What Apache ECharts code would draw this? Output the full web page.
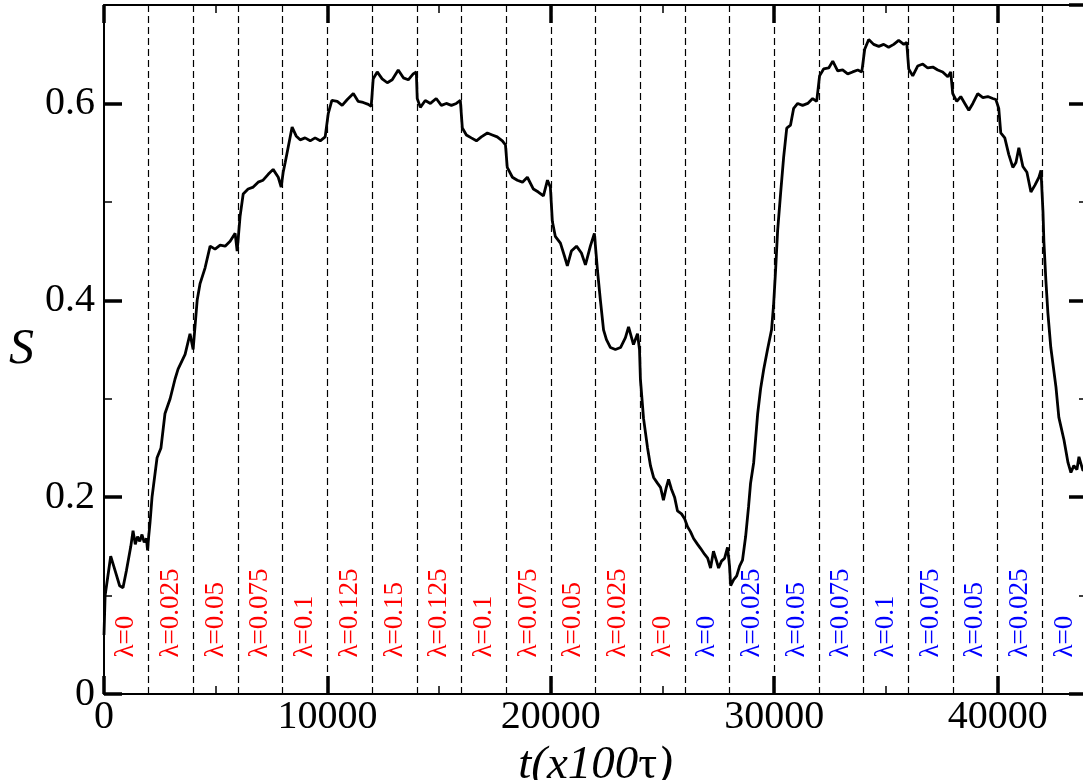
<!DOCTYPE html>
<html>
<head>
<meta charset="utf-8">
<title>S vs t</title>
<script src="https://cdn.jsdelivr.net/npm/echarts@6/dist/echarts.min.js"></script>
<style>
  html, body { margin: 0; padding: 0; background: #fff; }
  #chart { width: 1083px; height: 780px; }
</style>
</head>
<body>
<div id="chart"></div>
<script>
// time (x100 tau) and order parameter S
var tValues = [
  0, 50, 300, 500, 700, 850, 1000, 1200, 1300, 1400, 1500, 1600, 1700, 1800, 1900, 1950,
  2000, 2060, 2150, 2375, 2550, 2730, 2960, 3180, 3315, 3630, 3850, 3990,
  4170, 4300, 4525, 4750, 4970, 5200, 5420, 5645, 5870, 5960,
  6090, 6230, 6450, 6680, 6900, 7120, 7350, 7570, 7800, 7930,
  8020, 8110, 8240, 8420, 8600, 8780, 9000, 9230, 9450, 9680, 9900,
  10040, 10200, 10440, 10660, 10890, 11160, 11380, 11600, 11830, 11960,
  12050, 12230, 12450, 12680, 12900, 13170, 13400, 13620, 13840, 13980,
  14020, 14160, 14380, 14610, 14870, 15100, 15320, 15550, 15770, 15950,
  16040, 16220, 16440, 16670, 16890, 17160, 17380, 17600, 17830, 17970,
  18050, 18280, 18500, 18730, 18950, 19220, 19440, 19670, 19850, 19980,
  20070, 20200, 20430, 20610, 20740, 20920, 21150, 21370, 21550, 21770, 21950,
  22090, 22220, 22360, 22490, 22670, 22890, 23120, 23340, 23480, 23700, 23880, 23970,
  24010, 24150, 24330, 24460, 24600, 24780, 24910, 25040, 25170, 25270, 25400, 25540, 25670, 25850, 25990,
  26120, 26250, 26390, 26570, 26700, 26880, 27020, 27150, 27280, 27420, 27510, 27640, 27780, 27910, 28000,
  28050, 28180, 28320, 28450, 28580, 28720, 28850, 28940, 29080, 29170, 29260, 29390, 29530, 29700, 29880, 29970,
  30060, 30150, 30290, 30420, 30560, 30730, 30870, 31050, 31270, 31500, 31720, 31900,
  32030, 32210, 32440, 32620, 32840, 33060, 33290, 33510, 33740, 33920,
  34050, 34230, 34450, 34680, 34900, 35120, 35350, 35570, 35800, 35930,
  36020, 36200, 36420, 36650, 36870, 37100, 37320, 37540, 37770, 37900,
  37990, 38170, 38350, 38530, 38710, 38890, 39110, 39340, 39560, 39780, 39920,
  40050, 40140, 40320, 40500, 40680, 40820, 40950, 41130, 41310, 41490, 41670, 41850, 41940,
  42030, 42070, 42160, 42250, 42380, 42610, 42740, 42970, 43150, 43280, 43410, 43550, 43640, 43820, 44000
];
var sValues = [
  0.06, 0.10, 0.14, 0.125, 0.11, 0.108, 0.125, 0.15, 0.166, 0.152, 0.16, 0.155, 0.162, 0.154, 0.158, 0.146,
  0.16, 0.174, 0.20, 0.24, 0.25, 0.285, 0.30, 0.32, 0.33, 0.345, 0.366, 0.35,
  0.40, 0.417, 0.433, 0.455, 0.452, 0.456, 0.455, 0.46, 0.468, 0.45,
  0.485, 0.508, 0.513, 0.515, 0.52, 0.522, 0.528, 0.533, 0.525, 0.515,
  0.53, 0.54, 0.555, 0.576, 0.567, 0.563, 0.565, 0.562, 0.565, 0.562, 0.566,
  0.59, 0.603, 0.602, 0.598, 0.604, 0.61, 0.602, 0.601, 0.599, 0.597,
  0.625, 0.632, 0.625, 0.621, 0.624, 0.634, 0.626, 0.624, 0.63, 0.632,
  0.605, 0.596, 0.603, 0.60, 0.605, 0.598, 0.60, 0.598, 0.60, 0.603,
  0.575, 0.568, 0.565, 0.562, 0.566, 0.57, 0.568, 0.566, 0.562, 0.558,
  0.535, 0.525, 0.522, 0.52, 0.525, 0.513, 0.51, 0.506, 0.522, 0.515,
  0.48, 0.465, 0.458, 0.445, 0.435, 0.45, 0.455, 0.448, 0.436, 0.455, 0.468,
  0.43, 0.40, 0.37, 0.36, 0.352, 0.35, 0.352, 0.362, 0.373, 0.355, 0.366, 0.35,
  0.32, 0.28, 0.25, 0.232, 0.22, 0.214, 0.21, 0.197, 0.21, 0.218, 0.208, 0.20, 0.186, 0.183, 0.178,
  0.17, 0.165, 0.158, 0.152, 0.148, 0.142, 0.138, 0.128, 0.145, 0.135, 0.128, 0.135, 0.138, 0.149, 0.13,
  0.11, 0.116, 0.12, 0.13, 0.136, 0.16, 0.19, 0.214, 0.235, 0.26, 0.285, 0.31, 0.33, 0.35, 0.37, 0.395,
  0.43, 0.47, 0.51, 0.545, 0.575, 0.578, 0.595, 0.60, 0.598, 0.60, 0.605, 0.602,
  0.628, 0.635, 0.636, 0.643, 0.633, 0.634, 0.63, 0.632, 0.634, 0.632,
  0.655, 0.665, 0.66, 0.658, 0.66, 0.657, 0.66, 0.664, 0.66, 0.662,
  0.635, 0.628, 0.638, 0.64, 0.636, 0.637, 0.634, 0.632, 0.627, 0.632,
  0.61, 0.602, 0.607, 0.60, 0.593, 0.60, 0.61, 0.606, 0.607, 0.605, 0.604,
  0.595, 0.57, 0.565, 0.548, 0.535, 0.54, 0.555, 0.536, 0.53, 0.51, 0.517, 0.525, 0.532,
  0.49, 0.46, 0.42, 0.387, 0.352, 0.312, 0.281, 0.258, 0.235, 0.225, 0.232, 0.228, 0.241, 0.227, 0.23
];

// coupling lambda in each 2000-step window
var run1Lambda = [0, 0.025, 0.05, 0.075, 0.1, 0.125, 0.15, 0.125, 0.1, 0.075, 0.05, 0.025, 0];
var run2Lambda = [0, 0.025, 0.05, 0.075, 0.1, 0.075, 0.05, 0.025, 0];
var windowLength = 2000;
var tMax = 44000;

var serif = '"Liberation Serif", "Times New Roman", serif';

var curve = tValues.map(function (t, i) { return [t, sValues[i]]; });

var boundaries = [];
for (var b = windowLength; b < tMax; b += windowLength) boundaries.push({ xAxis: b });

function lambdaPoints(list, offset, color) {
  return list.map(function (v, i) {
    return {
      value: [(offset + i) * windowLength + windowLength / 2, 0.037],
      name: '\u03bb=' + v,
      label: { color: color }
    };
  });
}
var labelData = lambdaPoints(run1Lambda, 0, '#ff0000')
  .concat(lambdaPoints(run2Lambda, run1Lambda.length, '#0000ff'));

function xAx(pos, major, extra) {
  var a = {
    type: 'value', position: pos, min: 0, max: tMax,
    interval: major ? 10000 : 5000,
    axisLine: { show: major, onZero: false, lineStyle: { color: '#000', width: 2 } },
    axisTick: { show: true, inside: true, length: major ? 18 : 8,
      lineStyle: { color: '#000', width: major ? 3.5 : 1.5 } },
    axisLabel: { show: false },
    splitLine: { show: false }
  };
  return Object.assign(a, extra || {});
}
function yAx(pos, major, extra) {
  var a = {
    type: 'value', position: pos, min: 0, max: 0.7,
    interval: major ? 0.2 : 0.1,
    axisLine: { show: major, onZero: false, lineStyle: { color: '#000', width: 2 } },
    axisTick: { show: true, inside: true, length: major ? 18 : 8,
      lineStyle: { color: '#000', width: major ? 3.5 : 1.5 } },
    axisLabel: { show: false },
    splitLine: { show: false }
  };
  return Object.assign(a, extra || {});
}

var chart = echarts.init(document.getElementById('chart'));
var option = {
  backgroundColor: '#fff',
  animation: false,
  grid: { left: 104, top: 5, width: 983, height: 689, containLabel: false, outerBoundsMode: 'none' },
  xAxis: [
    xAx('bottom', true, {
      axisLabel: { show: true, color: '#000', fontFamily: serif, fontSize: 40, margin: 3, showMaxLabel: false,
        formatter: function (v) { return String(v); } },
      name: '{i|t(x100}{u|\u03c4}{i|)}',
      nameLocation: 'middle',
      nameGap: 46,
      nameTextStyle: {
        rich: {
          i: { fontFamily: serif, fontSize: 47, fontStyle: 'italic', color: '#000' },
          u: { fontFamily: serif, fontSize: 47, color: '#000' }
        }
      }
    }),
    xAx('bottom', false),
    xAx('top', true),
    xAx('top', false)
  ],
  yAxis: [
    yAx('left', true, {
      axisLabel: { show: true, color: '#000', fontFamily: serif, fontSize: 40, margin: 9, showMaxLabel: false },
      name: 'S',
      nameLocation: 'middle',
      nameRotate: 0,
      nameGap: 70,
      nameTextStyle: { fontFamily: serif, fontSize: 50, fontStyle: 'italic', color: '#000' }
    }),
    yAx('left', false),
    yAx('right', true),
    yAx('right', false)
  ],
  series: [
    {
      type: 'line',
      data: curve,
      xAxisIndex: 0,
      yAxisIndex: 0,
      showSymbol: false,
      symbol: 'none',
      lineStyle: { color: '#000', width: 2.8 },
      z: 3,
      markLine: {
        silent: true,
        symbol: 'none',
        label: { show: false },
        lineStyle: { color: '#000', width: 1.2, type: [7, 4] },
        data: boundaries
      }
    },
    {
      type: 'scatter',
      data: labelData,
      xAxisIndex: 0,
      yAxisIndex: 0,
      symbolSize: 1,
      itemStyle: { color: 'rgba(0,0,0,0)', opacity: 1 },
      label: {
        show: true,
        formatter: '{b}',
        position: 'inside',
        rotate: 90,
        align: 'left',
        verticalAlign: 'middle',
        fontFamily: serif,
        fontSize: 27,
        opacity: 1
      },
      z: 4
    }
  ]
};
chart.setOption(option);
</script>
</body>
</html>
